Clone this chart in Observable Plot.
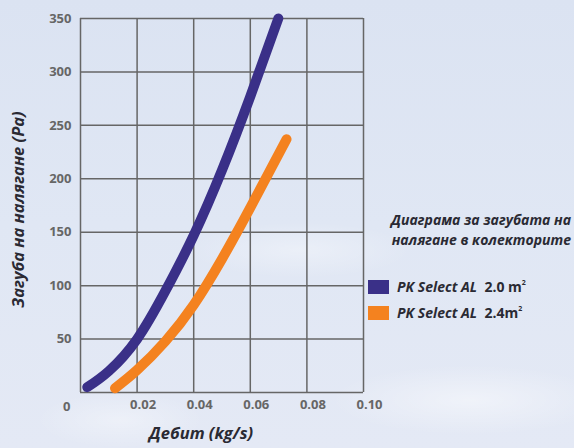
<!DOCTYPE html>
<html>
<head>
<meta charset="utf-8">
<script src="https://cdn.jsdelivr.net/npm/d3@7"></script>
<script src="https://cdn.jsdelivr.net/npm/@observablehq/plot@0.6"></script>
<style>
  html, body { margin: 0; padding: 0; }
  body {
    width: 574px; height: 448px; overflow: hidden;
    background:
      radial-gradient(ellipse 160px 40px at 300px 250px, rgba(255,255,255,0.35), rgba(255,255,255,0) 70%),
      radial-gradient(ellipse 200px 50px at 470px 400px, rgba(255,255,255,0.45), rgba(255,255,255,0) 70%),
      radial-gradient(ellipse 120px 40px at 120px 420px, rgba(255,255,255,0.35), rgba(255,255,255,0) 70%),
      linear-gradient(180deg, #dbe3f2 0%, #e0e7f4 50%, #e4e9f5 100%);
    font-family: "Open Sans", sans-serif;
  }
  #wrap { position: relative; width: 574px; height: 448px; }
  #legend { position: absolute; left: 360px; top: 210px; width: 214px; color: #2a2a33; }
  #legend .title { font-weight: bold; font-style: italic; font-size: 14px; line-height: 20px; text-align: right; padding-right: 3px; }
  #legend .item { position: absolute; left: 8px; display: flex; align-items: center; font-size: 14px; font-weight: bold; white-space: nowrap; }
  #legend .sw { width: 21px; height: 14px; margin-right: 8px; }
  #legend i { font-style: italic; }
  #legend sup { font-size: 7px; vertical-align: 7px; }
</style>
</head>
<body>
<div id="wrap"></div>
<script>
const flowBlue = [0.0024, 0.01, 0.02, 0.03, 0.04, 0.05, 0.06, 0.0699];
const lossBlue = [5, 20, 50, 95, 147, 208, 277, 350];
const flowOrange = [0.0122, 0.02, 0.03, 0.04, 0.05, 0.06, 0.0728];
const lossOrange = [4, 21, 48, 82, 125, 173, 237];
const seriesNames = ["PK Select AL  2.0 m²", "PK Select AL  2.4m²"];
const seriesColors = ["#3a3088", "#f4821f"];
const xTicks = [0.02, 0.04, 0.06, 0.08, 0.10];
const xGrid = [0, 0.02, 0.04, 0.06, 0.08, 0.10];
const yTicks = [50, 100, 150, 200, 250, 300, 350];
const yGrid = [0, 50, 100, 150, 200, 250, 300, 350];
const xLabel = "Дебит (kg/s)";
const yLabel = "Загуба на налягане (Pa)";
const legendTitle = ["Диаграма за загубата на", "налягане в колекторите"];

const blue = flowBlue.map((x, i) => ({x, y: lossBlue[i]}));
const orange = flowOrange.map((x, i) => ({x, y: lossOrange[i]}));

const tickStyle = {tickSize: 0, fontSize: 13, fontWeight: "bold", fill: "#666", label: null};

const chart = Plot.plot({
  width: 574, height: 448,
  marginLeft: 80, marginRight: 211, marginTop: 18, marginBottom: 56,
  style: {background: "transparent", fontFamily: "Open Sans, sans-serif"},
  x: {domain: [0, 0.1]},
  y: {domain: [0, 350]},
  marks: [
    Plot.gridX(xGrid, {stroke: "#666", strokeOpacity: 1, strokeWidth: 1.5}),
    Plot.gridY(yGrid, {stroke: "#666", strokeOpacity: 1, strokeWidth: 1.5}),
    Plot.axisX(xTicks, {...tickStyle, tickPadding: 7, dx: 6, tickFormat: d3.format(".2f")}),
    Plot.axisY(yTicks, {...tickStyle, tickPadding: 9}),
    Plot.axisY([0], {...tickStyle, tickPadding: 10, dy: 14}),
    Plot.line(blue, {x: "x", y: "y", stroke: seriesColors[0], strokeWidth: 10, curve: "natural", strokeLinecap: "round", strokeLinejoin: "round"}),
    Plot.line(orange, {x: "x", y: "y", stroke: seriesColors[1], strokeWidth: 10, curve: "natural", strokeLinecap: "round", strokeLinejoin: "round"}),
    Plot.text([xLabel], {frameAnchor: "bottom", text: d => d, textAnchor: "middle", dx: -21, dy: 46, fontSize: 16.5, fontWeight: "bold", fontStyle: "italic", fill: "#2a2a33"}),
    Plot.text([yLabel], {frameAnchor: "left", text: d => d, textAnchor: "middle", rotate: -90, dx: -62, dy: 4, fontSize: 16.5, fontWeight: "bold", fontStyle: "italic", fill: "#2a2a33"})
  ]
});
const wrap = document.getElementById("wrap");
wrap.appendChild(chart);

const legend = document.createElement("div");
legend.id = "legend";
const t = document.createElement("div");
t.className = "title";
t.innerHTML = legendTitle.join("<br>");
legend.appendChild(t);
const tops = [67, 93];
seriesNames.forEach((name, i) => {
  const item = document.createElement("div");
  item.className = "item";
  item.style.top = tops[i] + "px";
  const sw = document.createElement("div");
  sw.className = "sw";
  sw.style.background = seriesColors[i];
  item.appendChild(sw);
  const m = name.match(/^(PK Select AL)(\s+)(.*)²$/);
  const span = document.createElement("span");
  span.innerHTML = `<i>${m[1]}</i>&nbsp;&nbsp;${m[3]}<sup>2</sup>`;
  item.appendChild(span);
  legend.appendChild(item);
});
wrap.appendChild(legend);
</script>
</body>
</html>
